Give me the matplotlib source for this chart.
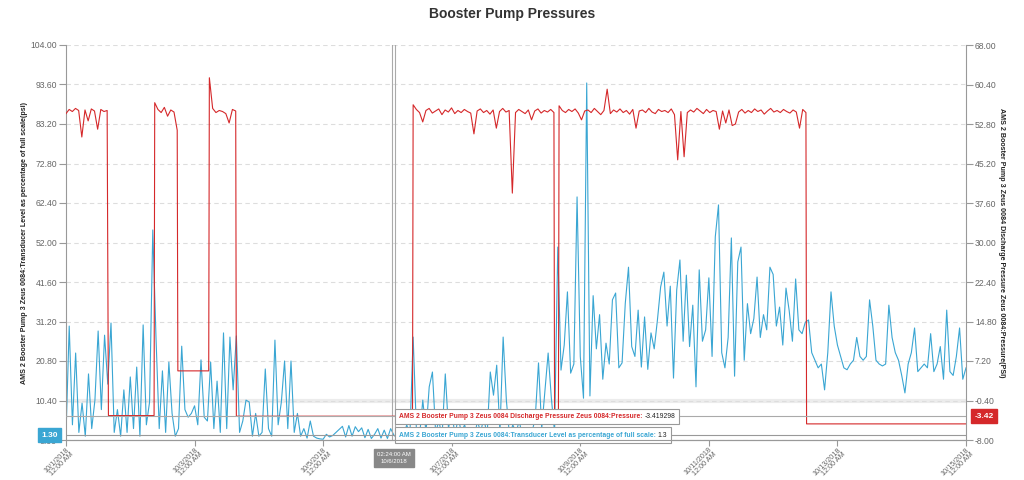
import numpy as np
import pandas as pd
import matplotlib
matplotlib.use('Agg')
import matplotlib.pyplot as plt
import matplotlib.dates as mdates
from matplotlib.offsetbox import TextArea, HPacker, AnnotationBbox

plt.rcParams['font.family'] = ['Liberation Sans', 'DejaVu Sans']

# --- data ---
start = pd.Timestamp('2018-10-01 00:00')

# transducer level (% of full scale), sampled every 0.05 day from 10/1 to 10/15
level_step_days = 0.05
level_values = [
    1.3, 30.0, 4, 22.9, 2, 9.7, 1, 17.4, 3, 10.5,
    28.7, 8, 27.6, 14.7, 30.8, 2, 8, 1, 13.2, 2,
    16.6, 3, 19.2, 1, 30.3, 4, 10, 55.3, 26.9, 3,
    18.2, 2, 20.5, 7, 1, 3, 24.7, 8, 6, 7,
    9, 4, 21.1, 6, 5, 20.5, 3, 15.5, 2, 28.2,
    3, 27.1, 13.2, 27.4, 2, 5, 10.5, 10, 1, 7,
    1, 2, 18.7, 3, 1, 26.3, 4, 10, 20.8, 3,
    20.8, 2, 7, 1, 3, 0.5, 5, 1, 0.5, 0.3,
    0.2, 1.5, 0.8, 1.2, 2.0, 2.8, 3.6, 0.8, 3.8, 1.0,
    3.5, 2.2, 3.2, 0.6, 2.8, 0.4, 1.5, 3.0, 0.5, 2.6,
    0.4, 3.0, 1.3, 0.5, 2.0, 1.0, 4.0, 1.5, 27.1, 3,
    1, 10.5, 2, 14, 17.9, 2, 5, 1, 17.4, 3,
    8, 1, 6, 2, 4, 1, 3, 0.5, 5, 2,
    6, 1, 17.9, 11.8, 19.7, 2, 27.1, 10.5, 1, 4,
    2, 5, 1, 3, 1, 2, 6, 20.3, 3, 13,
    22.9, 11, 2, 50.8, 18.4, 25, 39, 17.6, 20, 64,
    22, 11, 94, 11.6, 38, 24, 33, 16, 25.5, 20,
    36.9, 38.7, 19, 20.3, 36, 45.5, 24.6, 22, 34.2, 19.2,
    32.4, 18.6, 28.2, 24, 31.6, 40.3, 44.2, 30, 40.5, 16.3,
    39.5, 47.4, 26, 43.4, 24.6, 35.5, 14, 44.8, 26, 29,
    42.7, 22, 53.5, 61.9, 23, 19, 27, 53.2, 16.8, 46.9,
    50.8, 21, 35.9, 28, 32, 42.9, 27, 33, 29, 45.5,
    43.6, 30, 35, 25, 40, 34, 26, 42.4, 29, 28,
    31, 31.6, 23, 21, 19, 20, 13.2, 23, 39, 30,
    25, 22, 19, 18.5, 20, 21, 27, 22, 21, 22,
    36.9, 30, 21, 20, 19.5, 20, 35.5, 27, 23, 21,
    17, 12.4, 20, 23, 29.5, 18, 19, 20, 19, 28,
    18, 20, 24.6, 16, 34.2, 18, 17, 22, 29.5, 16,
    19,
]

# discharge pressure (PSI): segments of (start day, end day, values)
pressure_segments = [
    (0.00, 0.64, [54.8, 55.6, 55.2, 55.8, 55.4, 50.3, 55.5, 53.4, 55.7, 55.3,
                  51.8, 55.6, 55.2, 55.4]),
    (0.66, 1.37, [-3.3, -3.3]),
    (1.38, 1.73, [56.9, 55.6, 55.0, 56.0, 54.3, 55.5, 55.1, 51.6]),
    (1.74, 2.22, [5.3, 5.3]),
    (2.23, 2.64, [61.7, 55.8, 55.0, 55.4, 55.2, 54.8, 53.0, 55.6, 55.3]),
    (2.65, 5.39, [-3.42, -3.42]),
    (5.40, 7.59, [56.5, 55.6, 55.0, 53.2, 55.4, 55.8, 54.9, 55.3, 55.7, 54.6,
                  55.5, 55.1, 55.9, 54.8, 55.4, 55.0, 55.6, 55.2, 54.9, 50.9,
                  55.3, 55.7, 55.0, 55.4, 54.7, 55.5, 52.0, 55.2, 55.8, 55.1,
                  55.4, 39.5, 55.0, 55.6, 55.2, 54.8, 55.5, 53.6, 55.3, 55.7,
                  54.9, 55.4, 55.1, 55.6, 55.0]),
    (7.60, 7.66, [-3.42, -3.42]),
    (7.67, 11.51, [56.3, 55.4, 55.0, 55.6, 55.2, 55.7, 54.9, 53.6, 55.3, 55.5,
                   55.0, 55.8, 55.2, 54.6, 55.4, 59.5, 54.8, 55.5, 55.1, 55.7,
                   55.0, 55.4, 54.7, 55.6, 52.0, 55.3, 55.5, 55.0, 55.8, 55.1,
                   54.8, 55.6, 55.2, 55.4, 55.0, 55.7, 54.6, 45.9, 55.2, 46.5,
                   55.0, 55.5, 55.1, 55.8, 55.3, 54.8, 55.6, 55.0, 55.4, 55.2,
                   51.8, 55.3, 53.0, 55.5, 52.5, 52.8, 55.1, 55.6, 54.9, 55.4,
                   55.0, 55.7, 55.2, 55.5, 54.7, 55.3, 55.8, 55.1, 55.4, 55.0,
                   55.6, 55.2, 54.9, 55.5, 55.1, 52.0, 55.6, 55.0]),
    (11.52, 14.00, [-4.9, -4.9]),
]

tick_days = [0, 2, 4, 6, 8, 10, 12, 14]
hover_index = 102          # sample under the crosshair
hover_pressure = -3.419298

level_name = 'AMS 2 Booster Pump 3 Zeus 0084:Transducer Level as percentage of full scale'
pressure_name = 'AMS 2 Booster Pump 3 Zeus 0084 Discharge Pressure Zeus 0084:Pressure'

# --- build series ---
level_days = np.arange(len(level_values)) * level_step_days
level_t = start + pd.to_timedelta(level_days, unit='D')

p_days, p_vals = [], []
for d0, d1, vals in pressure_segments:
    p_days.extend(np.linspace(d0, d1, len(vals)))
    p_vals.extend(vals)
pressure_t = start + pd.to_timedelta(np.array(p_days), unit='D')

BLUE = '#3aa6d3'
RED = '#d5282a'
GREY = '#666666'

fig = plt.figure(figsize=(10.24, 4.8), dpi=100)
ax = fig.add_axes([66 / 1024, 40 / 480, 900 / 1024, 395 / 480])
ax2 = ax.twinx()

ax.axhline(10.4, color='#ececec', lw=3, zorder=0)
ax.plot(level_t, level_values, color=BLUE, lw=0.8, zorder=2)
ax2.plot(pressure_t, p_vals, color=RED, lw=0.8, zorder=2)

ax.set_xlim(start, start + pd.Timedelta(days=14))
ax.set_ylim(0, 104)
ax2.set_ylim(-8, 68)
ax.set_yticks(np.arange(0, 104.01, 10.4))
ax2.set_yticks(np.arange(-8, 68.01, 7.6))
ax.yaxis.set_major_formatter(plt.FormatStrFormatter('%.2f'))
ax2.yaxis.set_major_formatter(plt.FormatStrFormatter('%.2f'))

ticks = [start + pd.Timedelta(days=d) for d in tick_days]
ax.set_xticks(ticks)
ax.set_xticklabels([f'{t.month}/{t.day}/{t.year}\n12:00 AM' for t in ticks],
                   rotation=45, ha='right', va='top', rotation_mode='anchor',
                   fontsize=5.2, color=GREY, linespacing=0.9)

ax.grid(axis='y', color='#dddddd', linestyle=(0, (4, 3)), lw=0.8)
ax.set_axisbelow(True)

for a in (ax, ax2):
    a.spines['top'].set_visible(False)
    for side in ('left', 'right', 'bottom'):
        a.spines[side].set_color('#999999')
        a.spines[side].set_linewidth(0.8)
    a.tick_params(axis='y', labelsize=6.2, colors='#999999', labelcolor=GREY,
                  length=5, width=0.8, pad=1.5)
    a.tick_params(axis='x', length=4, width=0.8, colors='#999999', labelcolor=GREY, pad=0.5)
ax.spines['right'].set_visible(False)
ax2.spines['left'].set_visible(False)

ax.set_ylabel(level_name + '(psi)', fontsize=5.1, fontweight='bold', color='#222222', labelpad=2)
ax2.set_ylabel(pressure_name + '(PSI)', fontsize=5.1, fontweight='bold', color='#222222',
               rotation=-90, labelpad=6)

fig.text(0.5, 0.97, 'Booster Pump Pressures', ha='center', va='center',
         fontsize=10, fontweight='bold', color='#333333')

# --- crosshair / tooltip ---
ht = level_t[hover_index]
hv = level_values[hover_index]
for off in (-0.022, 0.022):
    ax.axvline(ht + pd.Timedelta(days=off), color='#aaaaaa', lw=0.8, zorder=3)
ax.axhline(hv, color='#999999', lw=0.8, zorder=3)
ax2.axhline(hover_pressure, color='#aaaaaa', lw=0.8, zorder=3)

t_box = mdates.date2num(ht + pd.Timedelta(days=0.08))


def tooltip(a, name, colour, value, y):
    parts = HPacker(children=[
        TextArea(name + ': ', textprops=dict(color=colour, fontsize=4.9, fontweight='bold')),
        TextArea(value, textprops=dict(color='#222222', fontsize=4.9)),
    ], align='center', pad=0, sep=0)
    box = AnnotationBbox(parts, (t_box, y), xycoords=a.transData, box_alignment=(0, 0.5),
                         frameon=True, pad=0.35, zorder=5,
                         bboxprops=dict(boxstyle='square', fc='white', ec='#999999', lw=0.8))
    a.add_artist(box)


tooltip(ax2, pressure_name, RED, f'{hover_pressure}', hover_pressure)
tooltip(ax, level_name, BLUE, f'{hv:g}', hv)

ax.annotate(f'{hv:.2f}', xy=(0, hv), xycoords=('axes fraction', 'data'),
            xytext=(-12, 0), textcoords='offset points', fontsize=6, color='white',
            fontweight='bold', ha='center', va='center', zorder=6, annotation_clip=False,
            bbox=dict(boxstyle='square,pad=0.4', fc=BLUE, ec=BLUE))
ax2.annotate(f'{hover_pressure:.2f}', xy=(1, hover_pressure), xycoords=('axes fraction', 'data'),
             xytext=(13, 0), textcoords='offset points', fontsize=6, color='white',
             fontweight='bold', ha='center', va='center', zorder=6, annotation_clip=False,
             bbox=dict(boxstyle='square,pad=0.4', fc=RED, ec=RED))
ax.annotate(f'{ht:%I:%M:%S %p}\n{ht.month}/{ht.day}/{ht.year}', xy=(mdates.date2num(ht), 0),
            xytext=(0, -13), textcoords='offset points', fontsize=4.3, color='white',
            ha='center', va='center', zorder=6, annotation_clip=False, linespacing=1.5,
            bbox=dict(boxstyle='square,pad=0.5', fc='#888888', ec='#888888'))

fig.savefig('out.png', dpi=100)
